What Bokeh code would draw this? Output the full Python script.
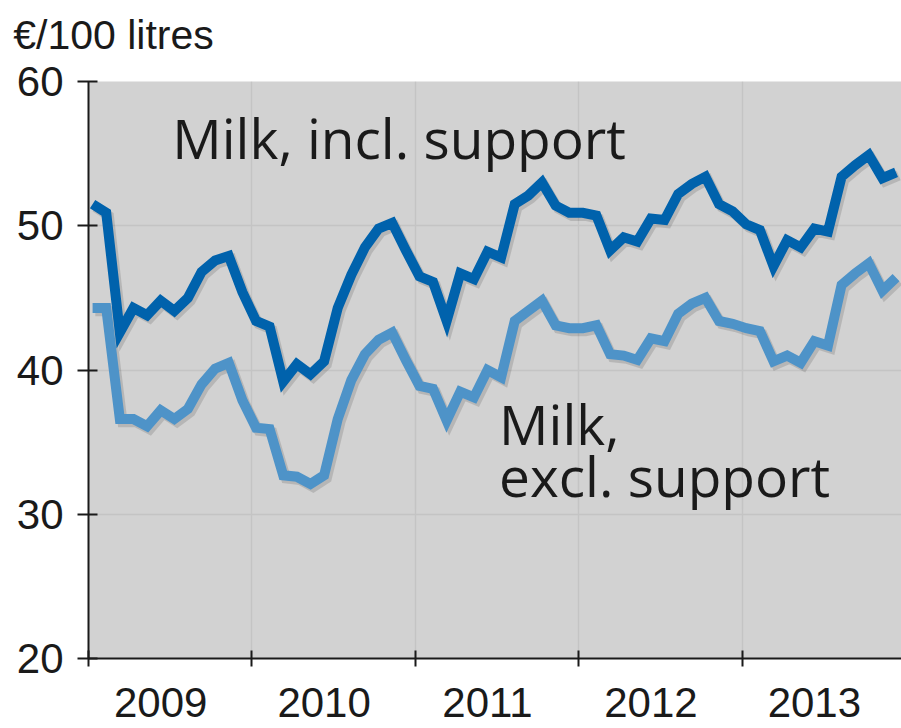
from bokeh.plotting import figure
from bokeh.embed import file_html
from bokeh.resources import INLINE
from bokeh.core.properties import value
from bokeh.models import Range1d, FixedTicker, CustomJSTickFormatter, LinearAxis

# ---- data (monthly, Jan 2009 .. Dec 2013) ----
years = ["2009", "2010", "2011", "2012", "2013"]
month_index = list(range(60))

incl_support = [
    51.5, 50.9, 42.6, 44.3, 43.8, 44.8, 44.1, 45.0, 46.8, 47.6, 47.9, 45.4,
    43.4, 43.0, 39.2, 40.4, 39.7, 40.6, 44.3, 46.6, 48.5, 49.8, 50.2, 48.3,
    46.5, 46.1, 43.4, 46.7, 46.3, 48.2, 47.8, 51.5, 52.1, 53.0, 51.4, 50.9,
    50.9, 50.7, 48.3, 49.2, 48.9, 50.5, 50.4, 52.2, 52.9, 53.4, 51.5, 51.0,
    50.1, 49.7, 47.2, 49.0, 48.5, 49.8, 49.6, 53.4, 54.2, 54.9, 53.3, 53.7,
]
excl_support = [
    44.3, 44.3, 36.6, 36.6, 36.1, 37.2, 36.6, 37.3, 39.0, 40.1, 40.5, 37.9,
    36.0, 35.9, 32.7, 32.6, 32.1, 32.7, 36.6, 39.3, 41.1, 42.1, 42.6, 40.7,
    38.9, 38.7, 36.5, 38.5, 38.1, 40.0, 39.5, 43.4, 44.1, 44.8, 43.1, 42.9,
    42.9, 43.1, 41.1, 41.0, 40.7, 42.2, 42.0, 43.9, 44.6, 45.0, 43.4, 43.2,
    42.9, 42.7, 40.6, 41.0, 40.5, 42.0, 41.7, 45.9, 46.7, 47.4, 45.5, 46.4,
]
y_ticks = [20, 30, 40, 50, 60]
unit_label = "€/100 litres"
label_incl = "Milk, incl. support"
label_excl = ["Milk,", "excl. support"]

# ---- styling ----
DARK = "#0062AC"
LIGHT = "#4E93C8"
BG = "#D2D2D2"
GRID = "#C4C4C4"
INK = "#1a1a1a"
ANN_FONT = "Open Sans"
TICK_FONT = "Liberation Sans"

x_pos = [m + 0.3 for m in month_index]

p = figure(width=901, height=728,
           x_range=Range1d(0, 59.7), y_range=Range1d(20, 60),
           output_backend="svg", toolbar_location=None,
           min_border_left=88, min_border_top=81, min_border_right=0, min_border_bottom=70)

p.background_fill_color = BG
p.border_fill_color = "white"
p.outline_line_color = None
p.title.visible = False

# unit label drawn as a single-tick axis above the frame
unit_axis = LinearAxis(ticker=FixedTicker(ticks=[1.84]),
                       formatter=CustomJSTickFormatter(args=dict(t=unit_label), code="return t;"),
                       axis_line_color=None, major_tick_line_color=None, minor_tick_line_color=None,
                       major_tick_in=0, major_tick_out=0, major_label_standoff=24,
                       major_label_text_font=TICK_FONT, major_label_text_font_size="41px",
                       major_label_text_color=INK)
p.add_layout(unit_axis, "above")

# grid
p.xgrid.ticker = FixedTicker(ticks=[12, 24, 36, 48])
p.xgrid.grid_line_color = GRID
p.xgrid.grid_line_width = 1.5
p.ygrid.ticker = FixedTicker(ticks=[30, 40, 50])
p.ygrid.grid_line_color = GRID
p.ygrid.grid_line_width = 1.5

# x axis: labels centred in year, ticks at year boundaries (minor ticks)
xax = p.below[0]
xax.ticker = FixedTicker(ticks=[12 * i + 5.3 for i in range(len(years))],
                         minor_ticks=[12 * i for i in range(len(years) + 1)])
xax.formatter = CustomJSTickFormatter(args=dict(labels=years),
                                      code="return labels[Math.floor(tick / 12)];")
xax.major_tick_line_color = None
xax.major_tick_in = 0
xax.major_tick_out = 8
xax.minor_tick_in = 8
xax.minor_tick_out = 8
xax.minor_tick_line_color = INK
xax.minor_tick_line_width = 2
xax.major_label_standoff = 21

# y axis
yax = p.left[0]
yax.ticker = FixedTicker(ticks=y_ticks)
yax.major_tick_in = 9
yax.major_tick_out = 11
yax.minor_tick_line_color = None
yax.major_tick_line_color = INK
yax.major_tick_line_width = 2
yax.major_label_standoff = 14

for ax in (xax, yax):
    ax.axis_line_color = INK
    ax.axis_line_width = 2
    ax.major_label_text_font = TICK_FONT
    ax.major_label_text_font_size = "42px"
    ax.major_label_text_color = INK

# shadows + lines
p.line([x + 0.2 for x in x_pos], [v - 0.22 for v in excl_support], line_color="black",
       line_alpha=0.13, line_width=10, line_join="miter")
p.line(x_pos, excl_support, line_color=LIGHT, line_width=10, line_join="miter")
p.line([x + 0.2 for x in x_pos], [v - 0.22 for v in incl_support], line_color="black",
       line_alpha=0.13, line_width=10, line_join="miter")
p.line(x_pos, incl_support, line_color=DARK, line_width=10, line_join="miter")

# annotations
p.text(x=[6.15], y=[56.1], text=[label_incl], text_font=value(ANN_FONT),
       text_font_size="55px", text_color=INK, text_baseline="alphabetic")
p.text(x=[30.15, 30.15], y=[36.3, 32.7], text=label_excl, text_font=value(ANN_FONT),
       text_font_size="55px", text_color=INK, text_baseline="alphabetic")

open("out.html", "w").write(file_html(p, INLINE))
